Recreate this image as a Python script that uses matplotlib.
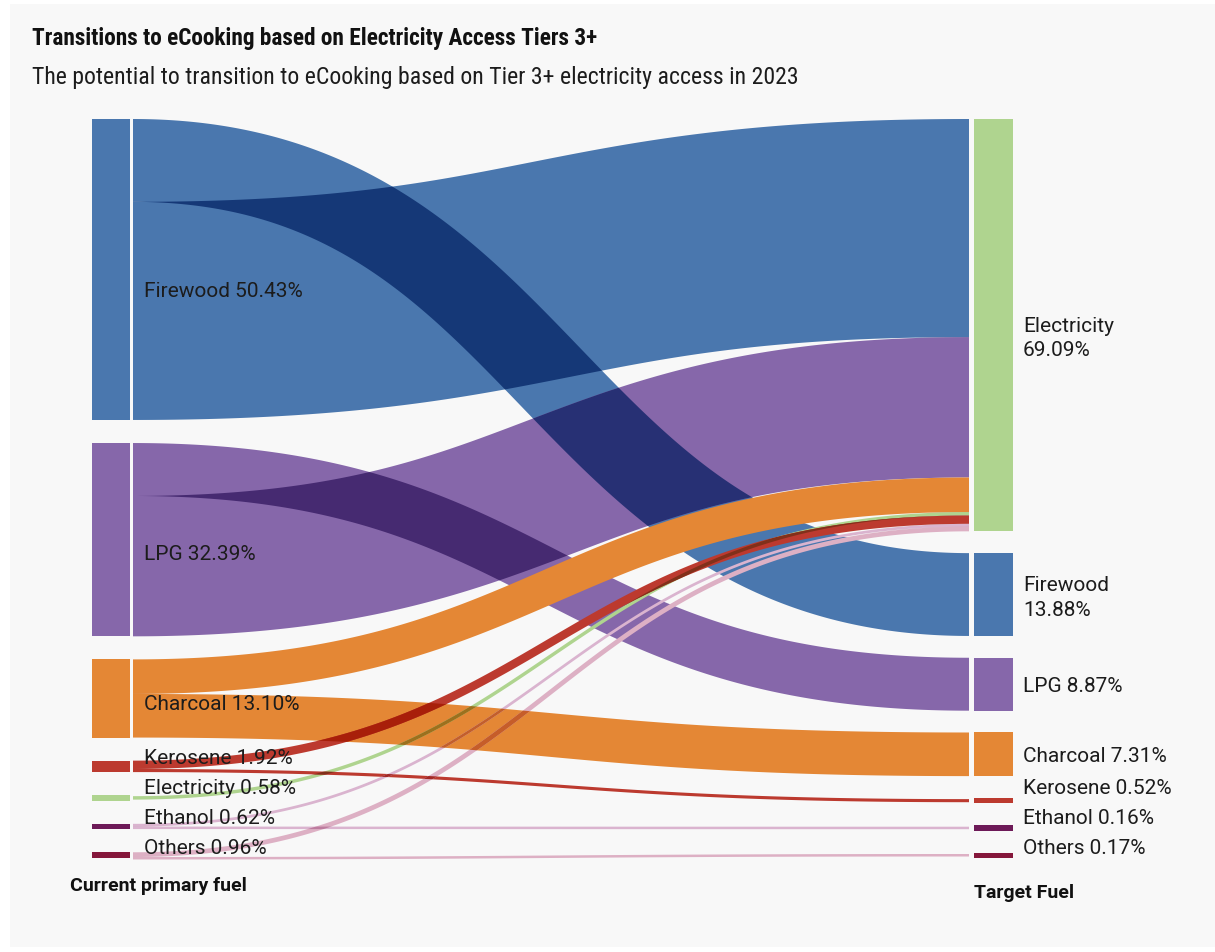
import numpy as np
import matplotlib
matplotlib.use("Agg")
import matplotlib.pyplot as plt
from matplotlib.path import Path
from matplotlib.patches import PathPatch, Rectangle
from matplotlib import font_manager, colors as mcolors

# ---------------------------------------------------------------- data
source_fuels = ["Firewood", "LPG", "Charcoal", "Kerosene", "Electricity", "Ethanol", "Others"]
source_shares = [50.43, 32.39, 13.10, 1.92, 0.58, 0.62, 0.96]

target_fuels = ["Electricity", "Firewood", "LPG", "Charcoal", "Kerosene", "Ethanol", "Others"]
target_shares = [69.09, 13.88, 8.87, 7.31, 0.52, 0.16, 0.17]

# flows, listed in the order they are stacked inside each node
flow_sources = ["Firewood", "Firewood", "LPG", "LPG", "Charcoal", "Charcoal", "Electricity",
                "Kerosene", "Kerosene", "Ethanol", "Ethanol", "Others", "Others"]
flow_targets = ["Firewood", "Electricity", "LPG", "Electricity", "Electricity", "Charcoal", "Electricity",
                "Electricity", "Kerosene", "Electricity", "Ethanol", "Electricity", "Others"]
flow_shares = [13.88, 36.55, 8.87, 23.52, 5.79, 7.31, 0.58, 1.40, 0.52, 0.46, 0.16, 0.79, 0.17]

title = "Transitions to eCooking based on Electricity Access Tiers 3+"
subtitle = "The potential to transition to eCooking based on Tier 3+ electricity access in 2023"
left_caption = "Current primary fuel"
right_caption = "Target Fuel"

# ---------------------------------------------------------------- style
node_colors = {"Firewood": "#4a77ae", "LPG": "#8667aa", "Charcoal": "#e48735",
               "Kerosene": "#bc3a2f", "Electricity": "#afd48f", "Ethanol": "#6d1a58",
               "Others": "#85173b"}
flow_colors = dict(node_colors, Ethanol="#dab4cf", Others="#ddb0c4")
base_layer = {"Firewood", "LPG"}   # large flows blended together underneath

W, H = 1215, 953
left_x = (92, 130)
right_x = (974, 1013)
flow_gap = (3, 5)
span = (120, 859)
node_pad = 23.7
min_node_h = 5.5
min_flow_w = 2.5
curvature = 0.5

plt.rcParams["font.family"] = ["Roboto", "DejaVu Sans"]
installed = {f.name for f in font_manager.fontManager.ttflist}
narrow = next((f for f in ["Roboto Condensed", "Liberation Sans Narrow", "Roboto"] if f in installed),
              "DejaVu Sans")

fig = plt.figure(figsize=(W / 100, H / 100), dpi=100)
fig.patch.set_facecolor("white")
ax = fig.add_axes([0, 0, 1, 1])
ax.set_xlim(0, W)
ax.set_ylim(H, 0)
ax.axis("off")
ax.add_patch(Rectangle((10, 5), W - 10, 943, fc="#f8f8f8", ec="none", zorder=0))

# ---------------------------------------------------------------- layout
k = min((span[1] - span[0] - (len(c) - 1) * node_pad) / sum(c)
        for c in (source_shares, target_shares))


def column_layout(names, shares):
    heights = [max(s * k, min_node_h) for s in shares]
    gap = (span[1] - span[0] - sum(heights)) / (len(heights) - 1)
    out, y = {}, span[0]
    for n, h in zip(names, heights):
        out[n] = (y, h)
        y += h + gap
    return out


src_nodes = column_layout(source_fuels, source_shares)
tgt_nodes = column_layout(target_fuels, target_shares)

widths = [max(s * k, min_flow_w) for s in flow_shares]


def start_offsets(nodes, ends):
    off = {}
    for n, (top, h) in nodes.items():
        total = sum(w for w, e in zip(widths, ends) if e == n)
        off[n] = top + max(h - total, 0) / 2
    return off


src_off = start_offsets(src_nodes, flow_sources)
tgt_off = start_offsets(tgt_nodes, flow_targets)


def band_path(x0, y0, x1, y1, w, n=400):
    """Outline of a stroked horizontal cubic link of width w."""
    t = np.linspace(0, 1, n)
    xa = x0 + curvature * (x1 - x0)
    xb = x1 - curvature * (x1 - x0)
    b0, b1, b2, b3 = (1 - t) ** 3, 3 * (1 - t) ** 2 * t, 3 * (1 - t) * t ** 2, t ** 3
    px = b0 * x0 + b1 * xa + b2 * xb + b3 * x1
    py = (b0 + b1) * y0 + (b2 + b3) * y1
    dx = 3 * (1 - t) ** 2 * (xa - x0) + 6 * (1 - t) * t * (xb - xa) + 3 * t ** 2 * (x1 - xb)
    dy = 6 * (1 - t) * t * (y1 - y0)
    L = np.hypot(dx, dy)
    nx, ny = -dy / L, dx / L
    upper = np.column_stack([px + nx * w / 2, py + ny * w / 2])
    lower = np.column_stack([px - nx * w / 2, py - ny * w / 2])
    verts = np.vstack([upper, lower[::-1], upper[:1]])
    codes = [Path.MOVETO] + [Path.LINETO] * (len(verts) - 2) + [Path.CLOSEPOLY]
    return Path(verts, codes)


flows = []
for s, t, w in zip(flow_sources, flow_targets, widths):
    y0 = src_off[s] + w / 2
    src_off[s] += w
    y1 = tgt_off[t] + w / 2
    tgt_off[t] += w
    p = band_path(left_x[1] + flow_gap[0], y0, right_x[0] - flow_gap[1], y1, w)
    flows.append((p, mcolors.to_rgb(flow_colors[s]), s in base_layer))


def multiply(c1, c2):
    return tuple(a * b for a, b in zip(c1, c2))


def draw_layer(items, z):
    for p, c, _ in items:
        ax.add_patch(PathPatch(p, fc=c, ec="none", lw=0, zorder=z))
    for i in range(len(items)):
        for j in range(i + 1, len(items)):
            pi, ci, _ = items[i]
            pj, cj, _ = items[j]
            over = PathPatch(pj, fc=multiply(ci, cj), ec="none", lw=0, zorder=z + 0.5)
            ax.add_patch(over)
            over.set_clip_path(pi, ax.transData)


draw_layer([f for f in flows if f[2]], 1)
draw_layer([f for f in flows if not f[2]], 2)

# ---------------------------------------------------------------- nodes
for n, (top, h) in src_nodes.items():
    ax.add_patch(Rectangle((left_x[0], top), left_x[1] - left_x[0], h,
                           fc=node_colors[n], ec="none", zorder=3))
for n, (top, h) in tgt_nodes.items():
    ax.add_patch(Rectangle((right_x[0], top), right_x[1] - right_x[0], h,
                           fc=node_colors[n], ec="none", zorder=3))

# ---------------------------------------------------------------- labels
label_size = 15
line_h = 25
label_sep = 5


def place_labels(nodes, shares, wrap, anchor):
    texts, centers, heights = [], [], []
    for (n, (top, h)), s in zip(nodes.items(), shares):
        txt = f"{n} {s:.2f}%"
        if wrap and len(txt) > 14:
            txt = f"{n}\n{s:.2f}%"
        texts.append(txt)
        centers.append(top + h * anchor)
        heights.append(line_h * (txt.count("\n") + 1))
    limit = span[1] + 2
    for i in range(len(centers) - 1, -1, -1):
        centers[i] = min(centers[i], limit - heights[i] / 2)
        limit = centers[i] - heights[i] / 2 - label_sep
    return texts, centers


lt, lc = place_labels(src_nodes, source_shares, False, 0.57)
for txt, y in zip(lt, lc):
    ax.text(left_x[1] + 14, y, txt, ha="left", va="center", fontsize=label_size,
            color="#1c1c1c", zorder=4)

rt, rc = place_labels(tgt_nodes, target_shares, True, 0.53)
for txt, y in zip(rt, rc):
    ax.text(right_x[1] + 10, y, txt, ha="left", va="center", fontsize=label_size,
            color="#1c1c1c", linespacing=1.38, zorder=4)

ax.text(70, 886, left_caption, ha="left", va="center", fontsize=14, fontweight="bold",
        color="#111111", zorder=4)
ax.text(974, 893, right_caption, ha="left", va="center", fontsize=14, fontweight="bold",
        color="#111111", zorder=4)

t1 = ax.text(32, 45, title, ha="left", va="baseline", fontsize=15, fontweight="bold",
             family=[narrow, "DejaVu Sans"], color="#111111", zorder=4)
t2 = ax.text(32, 84, subtitle, ha="left", va="baseline", fontsize=15,
             family=[narrow, "DejaVu Sans"], color="#1c1c1c", zorder=4)

renderer = fig.canvas.get_renderer()
for txt, target in ((t1, 566), (t2, 765)):
    w = txt.get_window_extent(renderer=renderer).width
    txt.set_fontsize(txt.get_fontsize() * target / w)

fig.savefig("out.png", dpi=100, facecolor=fig.get_facecolor())
